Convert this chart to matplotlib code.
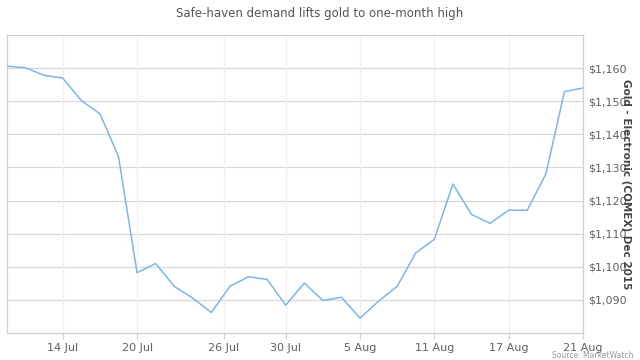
import matplotlib.pyplot as plt
import numpy as np
import pandas as pd

# 取引日と金価格（COMEX 2015年12月限）
dates = [
    "2015-07-09", "2015-07-10", "2015-07-13", "2015-07-14", "2015-07-15",
    "2015-07-16", "2015-07-17", "2015-07-20", "2015-07-21", "2015-07-22",
    "2015-07-23", "2015-07-24", "2015-07-27", "2015-07-28", "2015-07-29",
    "2015-07-30", "2015-07-31", "2015-08-03", "2015-08-04", "2015-08-05",
    "2015-08-06", "2015-08-07", "2015-08-10", "2015-08-11", "2015-08-12",
    "2015-08-13", "2015-08-14", "2015-08-17", "2015-08-18", "2015-08-19",
    "2015-08-20", "2015-08-21",
]
prices = [
    1160.6, 1160.1, 1157.8, 1157.0, 1150.2,
    1146.2, 1133.3, 1098.2, 1101.0, 1094.1,
    1090.5, 1086.2, 1094.1, 1097.0, 1096.2,
    1088.4, 1095.1, 1089.8, 1090.8, 1084.5,
    1089.6, 1094.1, 1104.2, 1108.3, 1125.0,
    1115.8, 1113.1, 1117.1, 1117.1, 1128.0,
    1152.9, 1154.0,
]

tick_dates = ["2015-07-14", "2015-07-20", "2015-07-26", "2015-07-30",
              "2015-08-05", "2015-08-11", "2015-08-17", "2015-08-21"]
tick_labels = ["14 Jul", "20 Jul", "26 Jul", "30 Jul",
               "5 Aug", "11 Aug", "17 Aug", "21 Aug"]
y_ticks = [1090, 1100, 1110, 1120, 1130, 1140, 1150, 1160]

# 取引日ベースの序数軸（週末は詰める）
day_num = pd.to_datetime(dates).map(pd.Timestamp.toordinal).to_numpy()
idx = np.arange(len(dates))
tick_num = pd.to_datetime(tick_dates).map(pd.Timestamp.toordinal).to_numpy()
tick_pos = np.interp(tick_num, day_num, idx)

fig = plt.figure(figsize=(6.4, 3.6), dpi=100)
ax = fig.add_axes([7 / 640, 1 - 333 / 360, 576 / 640, 298 / 360])

ax.plot(idx, prices, color="#7cb5ec", linewidth=1.1, zorder=3)

ax.set_xlim(idx[0], idx[-1])
ax.set_ylim(1080, 1170)

ax.set_xticks(tick_pos)
ax.set_xticklabels(tick_labels)
ax.set_yticks(y_ticks)
ax.set_yticklabels(["${:,}".format(v) for v in y_ticks])

ax.yaxis.tick_right()
ax.tick_params(axis="y", length=0, pad=4, labelsize=8, labelcolor="#606060")
ax.tick_params(axis="x", length=4, color="#d0d0d0", pad=3, labelsize=8,
               labelcolor="#606060")

for v in y_ticks:
    ax.axhline(v, color="#d8d8d8", linewidth=0.9, zorder=1)
for p in tick_pos:
    ax.axvline(p, color="#f0f0f0", linewidth=0.9, zorder=1)

for s in ax.spines.values():
    s.set_color("#d0d0d0")
    s.set_linewidth(0.9)

fig.text(0.5, 1 - 14 / 360, "Safe-haven demand lifts gold to one-month high",
         ha="center", va="center", fontsize=8.5, color="#555555")
# 軸ラベルは参照画像と同じく目盛ラベルに重ねる
fig.text(626 / 640, 1 - 184 / 360, "Gold - Electronic (COMEX) Dec 2015",
         ha="center", va="center", rotation=270, fontsize=7.5,
         fontweight="bold", color="#444444")
fig.text(633 / 640, 1 - 355 / 360, "Source: MarketWatch",
         ha="right", va="center", fontsize=5.5, color="#999999")

fig.savefig("out.png", dpi=100)
